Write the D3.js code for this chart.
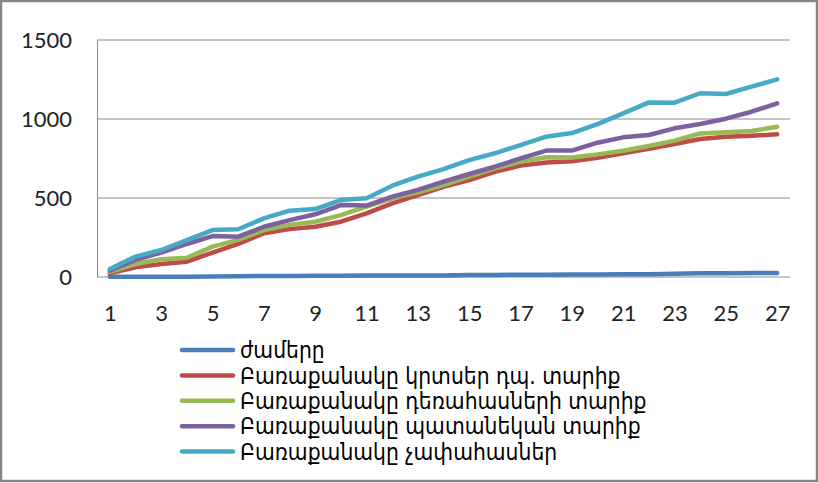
<!DOCTYPE html>
<html>
<head>
<meta charset="utf-8">
<script src="https://cdn.jsdelivr.net/npm/d3@7"></script>
<style>
  html, body { margin: 0; padding: 0; background: #fff; }
  svg { display: block; }
</style>
</head>
<body>
<svg id="chart" width="818" height="483"></svg>
<script>
// Categories along the x axis (1..27)
const categories = [1,2,3,4,5,6,7,8,9,10,11,12,13,14,15,16,17,18,19,20,21,22,23,24,25,26,27];
const xTickLabels = [1,3,5,7,9,11,13,15,17,19,21,23,25,27];
const yTickValues = [0, 500, 1000, 1500];

const seriesNames = [
  "ժամերը",
  "Բառաքանակը կրտսեր դպ. տարիք",
  "Բառաքանակը դեռահասների տարիք",
  "Բառաքանակը պատանեկան տարիք",
  "Բառաքանակը չափահասներ"
];
const seriesColors = ["#4a7ebb", "#be4b48", "#98b954", "#7d60a0", "#46aac5"];

const hours    = [1,1,2,2,3,5,6,7,8,8,9,9,10,10,12,13,14,15,16,16,17,18,21,23,24,25,26];
const junior   = [23,61,82,97,154,210,276,303,318,350,403,466,519,571,614,666,705,725,732,755,783,812,842,873,888,894,903];
const teens    = [32,82,112,122,192,235,297,330,350,392,445,498,536,582,635,688,730,758,757,776,799,829,863,909,916,924,951];
const youth    = [40,108,154,209,259,255,318,360,397,455,452,508,551,603,652,698,751,800,800,850,884,899,941,968,1002,1046,1099];
const adults   = [51,129,171,234,297,302,371,420,430,487,498,578,635,683,740,783,835,888,911,968,1036,1105,1103,1163,1158,1205,1251];

const seriesValues = [hours, junior, teens, youth, adults];

const svg = d3.select("#chart");
const W = 818, H = 483;
const plot = { left: 97, right: 790, top: 40, bottom: 277 };

// Outer frame
svg.append("rect")
  .attr("x", 1).attr("y", 1)
  .attr("width", W - 2).attr("height", H - 3)
  .attr("fill", "#fff")
  .attr("stroke", "#858585")
  .attr("stroke-width", 2.5);

const x = d3.scalePoint()
  .domain(categories)
  .range([plot.left, plot.right])
  .padding(0.5);

const y = d3.scaleLinear()
  .domain([0, 1500])
  .range([plot.bottom, plot.top]);

// Horizontal gridlines
svg.append("g")
  .selectAll("line")
  .data(yTickValues.filter(v => v > 0))
  .join("line")
  .attr("x1", plot.left).attr("x2", plot.right)
  .attr("y1", d => y(d)).attr("y2", d => y(d))
  .attr("stroke", "#8a8a8a")
  .attr("stroke-width", 1);

// Y axis
const yAxis = svg.append("g")
  .attr("transform", `translate(${plot.left},0)`)
  .call(d3.axisLeft(y).tickValues(yTickValues).tickSize(0).tickPadding(25).tickFormat(d3.format("d")));
yAxis.select(".domain").attr("stroke", "#8a8a8a");
yAxis.selectAll("text")
  .attr("font-family", "Lato, 'Open Sans', sans-serif")
  .attr("font-size", 22)
  .attr("fill", "#222");

// X axis
const xAxis = svg.append("g")
  .attr("transform", `translate(0,${plot.bottom})`)
  .call(d3.axisBottom(x).tickValues(xTickLabels).tickSize(0).tickPadding(28));
xAxis.select(".domain").attr("stroke", "#8a8a8a").attr("d", `M${plot.left},0H${plot.right}`);
xAxis.selectAll("text")
  .attr("font-family", "Lato, 'Open Sans', sans-serif")
  .attr("font-size", 22)
  .attr("fill", "#222");

// Series lines
const line = d3.line()
  .x((d, i) => x(categories[i]))
  .y(d => y(d));

svg.append("g")
  .selectAll("path")
  .data(seriesValues)
  .join("path")
  .attr("d", d => line(d))
  .attr("fill", "none")
  .attr("stroke", (d, i) => seriesColors[i])
  .attr("stroke-width", 4.5)
  .attr("stroke-linejoin", "round")
  .attr("stroke-linecap", "round");

// Legend
const legend = svg.append("g").attr("transform", "translate(182,350)");
const rows = legend.selectAll("g")
  .data(seriesNames)
  .join("g")
  .attr("transform", (d, i) => `translate(0,${i * 25.4})`);
rows.append("line")
  .attr("x1", 0).attr("x2", 51)
  .attr("y1", 0).attr("y2", 0)
  .attr("stroke", (d, i) => seriesColors[i])
  .attr("stroke-width", 4.5)
  .attr("stroke-linecap", "round");
rows.append("text")
  .attr("x", 58)
  .attr("y", 0)
  .attr("dy", "0.36em")
  .attr("font-family", "'DejaVu Sans Condensed', 'DejaVu Sans', sans-serif")
  .attr("font-size", 22.6)
  .attr("fill", "#000")
  .text(d => d);
</script>
</body>
</html>
